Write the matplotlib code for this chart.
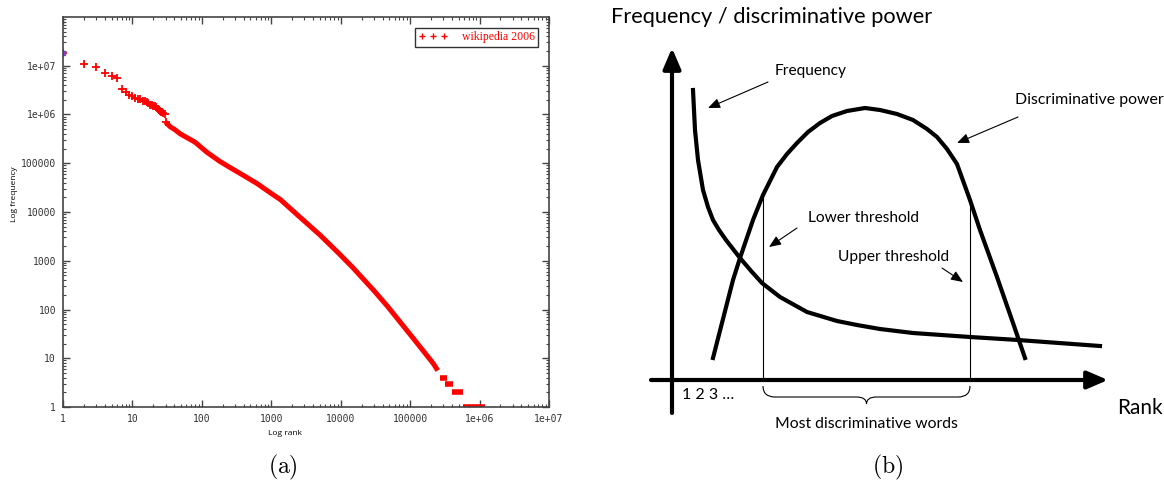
import matplotlib
matplotlib.use("Agg")
import matplotlib.pyplot as plt
from matplotlib.path import Path
from matplotlib.patches import PathPatch
from matplotlib.lines import Line2D
from matplotlib.ticker import LogLocator, NullFormatter

# (a) word frequency vs rank, wikipedia 2006
head_rank = list(range(1, 31))
head_freq = [1.8e7, 1.1e7, 9.5e6, 7.2e6, 6.3e6, 5.7e6, 3.4e6, 2.95e6, 2.5e6, 2.35e6,
             2.2e6, 2.1e6, 2.05e6, 1.9e6, 1.85e6, 1.8e6, 1.75e6, 1.6e6, 1.6e6, 1.5e6,
             1.48e6, 1.4e6, 1.3e6, 1.25e6, 1.2e6, 1.15e6, 1.1e6, 1.05e6, 1.0e6, 7.0e5]
body_rank = [30, 35, 40, 49, 60, 80, 117, 180, 257, 400, 630, 1000, 1350, 2570,
             5000, 9100, 15000, 30000, 47000, 110000, 214000, 250000]
body_freq = [7.0e5, 5.6e5, 5.0e5, 4.0e5, 3.4e5, 2.7e5, 1.7e5, 1.1e5, 8.1e4, 5.6e4,
             3.8e4, 2.4e4, 1.8e4, 7.9e3, 3.4e3, 1.48e3, 720, 245, 117, 26, 7.9, 5.6]
tail_freq = [4, 3, 2, 1]
tail_start = [2.7e5, 3.2e5, 4.0e5, 5.8e5]
tail_end = [3.4e5, 4.2e5, 5.8e5, 1.2e6]
decades = [1, 10, 100, 1000, 1e4, 1e5, 1e6, 1e7]
decade_labels = ["1", "10", "100", "1000", "10000", "100000", "1e+06", "1e+07"]

# (b) schematic, coordinates relative to the axis origin
freq_x = [21, 22, 23, 26, 31, 36, 41, 47, 54, 61, 68, 80, 90, 108, 135, 165, 185,
          208, 241, 298, 346, 428]
freq_y = [290, 270, 250, 220, 190, 173, 160, 150, 140, 131, 122, 108, 97, 83, 68, 59,
          55, 51, 47, 43, 40, 34]
power_x = [41, 61, 68, 81, 91, 105, 115, 125, 136, 148, 160, 175, 193, 208, 225, 241,
           255, 265, 275, 285, 298, 308, 325, 341, 353]
power_y = [22, 100, 122, 160, 185, 213, 226, 237, 248, 257, 264, 269, 272, 270, 266,
           260, 251, 243, 231, 216, 180, 150, 103, 57, 22]
lower_x, lower_top = 91, 185
upper_x, upper_top = 298, 180

red = "#ff0000"

fig = plt.figure(figsize=(11.64, 4.86), dpi=100)

# ---------- (a) ----------
ax = fig.add_axes([63 / 1164, 1 - 407 / 486, 486 / 1164, 390 / 486])
ax.set_xscale("log")
ax.set_yscale("log")
ax.set_xlim(1, 1e7)
ax.set_ylim(1, 1e8)

ax.plot(body_rank, body_freq, color=red, lw=3.6, solid_capstyle="butt",
        solid_joinstyle="round")
ax.plot(head_rank, head_freq, ls="none", marker="+", ms=5.5, mew=1.3, color=red)
ax.plot(head_rank[:1], head_freq[:1], ls="none", marker="s", ms=2.5, color="#8040d0")
ax.hlines(tail_freq, tail_start, tail_end, color=red, lw=4)

ax.set_xticks(decades)
ax.set_xticklabels(decade_labels)
ax.set_yticks(decades)
ax.set_yticklabels(decade_labels)
ax.xaxis.set_minor_locator(LogLocator(base=10, subs=range(2, 10), numticks=20))
ax.yaxis.set_minor_locator(LogLocator(base=10, subs=range(2, 10), numticks=20))
ax.xaxis.set_minor_formatter(NullFormatter())
ax.yaxis.set_minor_formatter(NullFormatter())
ax.tick_params(which="both", direction="in", top=True, right=True, color="#444444",
               labelsize=7, labelcolor="#333333")
ax.tick_params(which="major", length=5, width=1, pad=5)
ax.tick_params(which="minor", length=2.5, width=0.8)
for lab in ax.get_xticklabels() + ax.get_yticklabels():
    lab.set_family("DejaVu Sans Mono")
for sp in ax.spines.values():
    sp.set_color("#444444")
    sp.set_linewidth(1.2)

ax.set_xlabel("Log rank", fontsize=6, family="Open Sans")
ax.set_ylabel("Log frequency", fontsize=6, family="Open Sans")
ax.xaxis.set_label_coords(0.457, -0.06)
ax.yaxis.set_label_coords(-0.093, 0.546)

key = Line2D([], [], ls="none", marker="+", ms=4, mew=1, color=red)
leg = ax.legend([key], ["wikipedia 2006"], loc="upper right", numpoints=3,
                fancybox=False, framealpha=1, edgecolor="#333333",
                prop={"family": "Liberation Serif", "size": 8.5},
                borderaxespad=0.9, handlelength=2.5, handletextpad=1.2,
                borderpad=0.3)
leg.get_frame().set_linewidth(1)
for t in leg.get_texts():
    t.set_color(red)

fig.text(283 / 1164, 1 - 467 / 486, r"$\mathrm{(a)}$", fontsize=17,
         ha="center", va="center", math_fontfamily="cm")

# ---------- (b) ----------
bx = fig.add_axes([600 / 1164, 0, 564 / 1164, 1])
bx.set_xlim(-72, 492)
bx.set_ylim(-106, 380)
bx.axis("off")

sans = "Lato"
bx.annotate("", xy=(0, 332), xytext=(0, -33),
            arrowprops=dict(arrowstyle="-|>,head_length=0.7,head_width=0.3",
                            lw=3, color="black", shrinkA=0, shrinkB=0,
                            mutation_scale=18))
bx.annotate("", xy=(436, 0), xytext=(-21, 0),
            arrowprops=dict(arrowstyle="-|>,head_length=0.7,head_width=0.3",
                            lw=3, color="black", shrinkA=0, shrinkB=0,
                            mutation_scale=18))

bx.plot(freq_x, freq_y, color="black", lw=3, solid_joinstyle="round")
bx.plot(power_x, power_y, color="black", lw=3, solid_joinstyle="round")
bx.plot([lower_x, lower_x], [0, lower_top], color="black", lw=0.8)
bx.plot([upper_x, upper_x], [0, upper_top], color="black", lw=0.8)

mid = (lower_x + upper_x) / 2
brace = Path(
    [(lower_x, -6), (lower_x, -17), (lower_x + 12, -17), (mid - 10, -17),
     (mid, -17), (mid, -24), (mid, -17), (mid + 10, -17), (upper_x - 12, -17),
     (upper_x, -17), (upper_x, -6)],
    [Path.MOVETO, Path.CURVE3, Path.CURVE3, Path.LINETO, Path.CURVE3, Path.CURVE3,
     Path.CURVE3, Path.CURVE3, Path.LINETO, Path.CURVE3, Path.CURVE3])
bx.add_patch(PathPatch(brace, fc="none", ec="black", lw=0.8))

pointer = dict(arrowstyle="-|>,head_length=0.6,head_width=0.25", lw=0.8,
               color="black", shrinkA=0, shrinkB=0, mutation_scale=12)
bx.annotate("", xy=(36, 272), xytext=(96, 298), arrowprops=pointer)
bx.annotate("", xy=(285, 237), xytext=(346, 263), arrowprops=pointer)
bx.annotate("", xy=(97, 133), xytext=(125, 152), arrowprops=pointer)
bx.annotate("", xy=(291, 98), xytext=(270, 112), arrowprops=pointer)

bx.text(-61, 363, "Frequency / discriminative power", fontsize=15.7, family=sans,
        ha="left", va="center")
bx.text(103, 309, "Frequency", fontsize=11.2, family=sans, ha="left", va="center")
bx.text(343, 280, "Discriminative power", fontsize=11.4, family=sans, ha="left",
        va="center")
bx.text(136, 162, "Lower threshold", fontsize=11.2, family=sans, ha="left", va="center")
bx.text(166, 123, "Upper threshold", fontsize=11.2, family=sans, ha="left", va="center")
bx.text(10, -15, "1 2 3 \u2026", fontsize=11.5, family=sans, ha="left", va="center")
bx.text(194, -44, "Most discriminative words", fontsize=11.3, family=sans,
        ha="center", va="center")
bx.text(445, -28, "Rank", fontsize=15, family=sans, ha="left", va="center")

fig.text(888 / 1164, 1 - 467 / 486, r"$\mathrm{(b)}$", fontsize=17,
         ha="center", va="center", math_fontfamily="cm")

fig.savefig("out.png", dpi=100)
